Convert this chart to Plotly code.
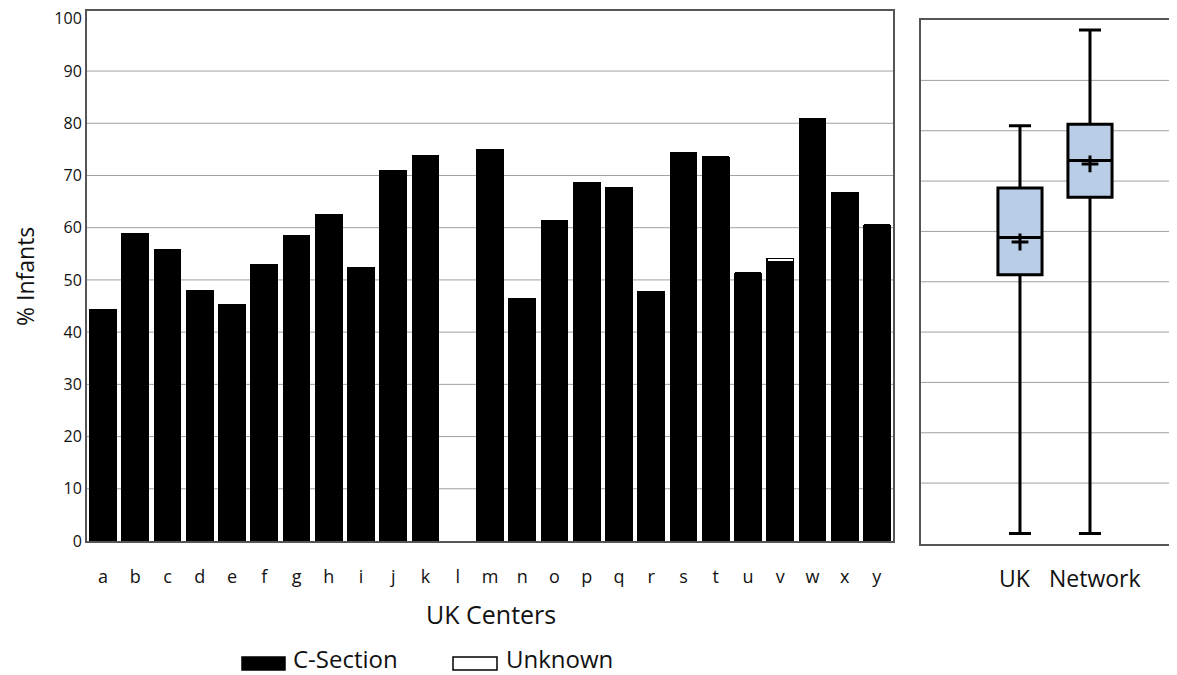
import plotly.graph_objects as go

# ---------------- data ----------------
centers = ["a", "b", "c", "d", "e", "f", "g", "h", "i", "j", "k", "l", "m",
           "n", "o", "p", "q", "r", "s", "t", "u", "v", "w", "x", "y"]
c_section = [44.3, 58.8, 55.8, 48.0, 45.2, 53.0, 58.4, 62.5, 52.4, 71.0, 73.8, None, 75.0,
             46.4, 61.4, 68.6, 67.7, 47.8, 74.3, 73.5, 51.3, 53.5, 80.8, 66.7, 60.5]
unknown = [0.0, 0.0, 0.0, 0.0, 0.0, 0.0, 0.0, 0.0, 0.0, 0.0, 0.0, None, 0.0,
           0.0, 0.0, 0.0, 0.0, 0.0, 0.0, 0.0, 0.0, 0.6, 0.0, 0.0, 0.0]

groups = ["UK", "Network"]
box_min = [0.0, 0.0]
box_q1 = [51.4, 66.8]
box_median = [58.8, 74.1]
box_q3 = [68.6, 81.3]
box_max = [81.0, 100.0]
box_mean = [57.9, 73.4]

left_ticks = [0, 10, 20, 30, 40, 50, 60, 70, 80, 90, 100]
grid_vals = [10, 20, 30, 40, 50, 60, 70, 80, 90]

FONT = "Open Sans"
TXT = "#111111"
W, H = 1177, 675          # browser window
OFF = 8                   # default page margin around the plot div
FW, FH = W - OFF, H - OFF  # figure size so that it fills the window


def fx(px):
    return (px - OFF) / FW


def fy(py):
    return 1 - (py - OFF) / FH


fig = go.Figure()

# ---------------- left: stacked bars ----------------
fig.add_trace(go.Bar(x=centers, y=c_section, name="C-Section",
                     marker=dict(color="black", line=dict(color="black", width=1)),
                     xaxis="x", yaxis="y", showlegend=False))
fig.add_trace(go.Bar(x=centers, y=unknown, name="Unknown",
                     marker=dict(color="white", line=dict(color="black", width=1.5)),
                     xaxis="x", yaxis="y", showlegend=False))

# ---------------- right: box plots ----------------
positions = list(range(len(groups)))
for i, g in enumerate(groups):
    fig.add_trace(go.Box(x=[positions[i]], q1=[box_q1[i]], median=[box_median[i]],
                         q3=[box_q3[i]], lowerfence=[box_min[i]], upperfence=[box_max[i]],
                         name=g, width=0.63, whiskerwidth=0.5, boxpoints=False,
                         fillcolor="#b9cde6", line=dict(color="black", width=3),
                         xaxis="x2", yaxis="y2", showlegend=False, hoverinfo="skip"))
fig.add_trace(go.Scatter(x=positions, y=box_mean, mode="markers",
                         marker=dict(symbol="cross-thin", size=12, color="black",
                                     line=dict(color="black", width=3)),
                         xaxis="x2", yaxis="y2", showlegend=False))

# ---------------- gridlines ----------------
shapes = []
for v in grid_vals:
    shapes.append(dict(type="line", xref="x domain", yref="y", x0=0, x1=1, y0=v, y1=v,
                       line=dict(color="#a0a0a0", width=1), layer="below"))
    shapes.append(dict(type="line", xref="x2 domain", yref="y2", x0=0, x1=1, y0=v, y1=v,
                       line=dict(color="#a0a0a0", width=1), layer="below"))

# ---------------- manual legend ----------------
legend_items = [("C-Section", "black", 242, 285, 292), ("Unknown", "white", 453, 497, 505)]
annotations = []
for label, col, x0, x1, xt in legend_items:
    shapes.append(dict(type="rect", xref="paper", yref="paper",
                       x0=fx(x0), x1=fx(x1), y0=fy(670), y1=fy(657),
                       fillcolor=col, line=dict(color="black", width=1.5)))
    annotations.append(dict(text=label, xref="paper", yref="paper", x=fx(xt), y=fy(658),
                            xanchor="left", yanchor="middle", showarrow=False, borderpad=0,
                            font=dict(family=FONT, size=24, color=TXT)))

# axis titles
annotations.append(dict(text="UK Centers", xref="paper", yref="paper", x=fx(491), y=fy(614),
                        xanchor="center", yanchor="middle", showarrow=False,
                        font=dict(family=FONT, size=25, color=TXT)))
annotations.append(dict(text="% Infants", xref="paper", yref="paper", x=fx(25), y=fy(277),
                        xanchor="center", yanchor="middle", showarrow=False, textangle=-90,
                        borderpad=0, font=dict(family=FONT, size=23, color=TXT)))

# box-panel category labels
label_centers = [1015, 1095]
for g, cx in zip(groups, label_centers):
    annotations.append(dict(text=g, xref="paper", yref="paper", x=fx(cx), y=fy(578),
                            xanchor="center", yanchor="middle", showarrow=False,
                            font=dict(family=FONT, size=23, color=TXT)))

fig.update_layout(
    width=FW, height=FH,
    margin=dict(l=0, r=0, t=0, b=0),
    paper_bgcolor="white", plot_bgcolor="white",
    barmode="stack", bargap=0.17,
    font=dict(family=FONT, color=TXT),
    shapes=shapes, annotations=annotations,
    xaxis=dict(domain=[fx(87), fx(893)], range=[-0.5, 24.5], type="category",
               showgrid=False, showline=True, mirror=True, linecolor="#555555", linewidth=2,
               ticks="", tickfont=dict(family=FONT, size=18, color=TXT),
               ticklabelstandoff=18, automargin=False, fixedrange=True),
    yaxis=dict(domain=[fy(541), fy(11)], range=[0, 101.5],
               tickvals=left_ticks, showgrid=False, zeroline=False,
               showline=True, mirror=True, linecolor="#555555", linewidth=2,
               ticks="", tickfont=dict(family=FONT, size=16, color=TXT),
               ticklabeloverflow="allow", automargin=False),
    xaxis2=dict(domain=[fx(921), 1.0], range=[-1.414, 2.243], anchor="y2",
                showticklabels=False, showgrid=False, zeroline=False,
                showline=True, mirror=True, linecolor="#555555", linewidth=2,
                ticks="", automargin=False),
    yaxis2=dict(domain=[fy(544), fy(20)], range=[-2.1, 102], anchor="x2",
                showticklabels=False, showgrid=False, zeroline=False,
                showline=True, mirror=True, linecolor="#555555", linewidth=2,
                ticks="", automargin=False),
)

fig.write_html("out.html")
